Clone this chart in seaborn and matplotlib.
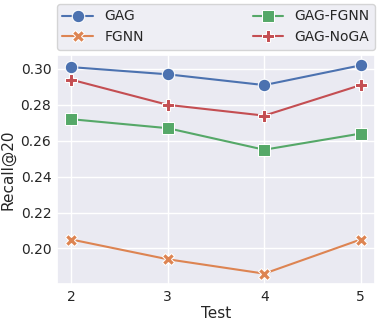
import matplotlib
matplotlib.use("Agg")
import matplotlib.pyplot as plt
import seaborn as sns
import pandas as pd

tests = [2, 3, 4, 5]
models = ["GAG", "FGNN", "GAG-FGNN", "GAG-NoGA"]
gag = [0.301, 0.297, 0.291, 0.302]
fgnn = [0.205, 0.194, 0.186, 0.205]
gag_fgnn = [0.272, 0.267, 0.255, 0.264]
gag_noga = [0.294, 0.280, 0.274, 0.291]
yticks = [0.20, 0.22, 0.24, 0.26, 0.28, 0.30]

rows = []
for name, vals in zip(models, [gag, fgnn, gag_fgnn, gag_noga]):
    for t, v in zip(tests, vals):
        rows.append({"Test": t, "Recall@20": v, "Model": name})
df = pd.DataFrame(rows)

sns.set_theme(style="darkgrid", palette="deep")
plt.rcParams["font.family"] = ["DejaVu Sans"]
fig, ax = plt.subplots(figsize=(3.82, 3.25), dpi=100)
sns.lineplot(data=df, x="Test", y="Recall@20", hue="Model", style="Model",
             markers=["o", "X", "s", "P"], dashes=False, markersize=9, ax=ax)
ax.set_xticks(tests)
ax.set_yticks(yticks)
ax.set_yticklabels([f"{v:.2f}" for v in yticks])
ax.tick_params(labelsize=10, length=0, pad=4)
ax.set_xlabel("Test", fontsize=11, labelpad=2)
ax.set_ylabel("Recall@20", fontsize=11, labelpad=4)
ax.legend(loc="lower left", bbox_to_anchor=(0, 1.022, 1, 0.2), mode="expand",
          ncol=2, fontsize=10, borderaxespad=0, handlelength=2.2,
          handletextpad=0.8)
fig.subplots_adjust(left=0.149, right=0.982, bottom=0.126, top=0.831)
fig.savefig("out.png", dpi=100)
